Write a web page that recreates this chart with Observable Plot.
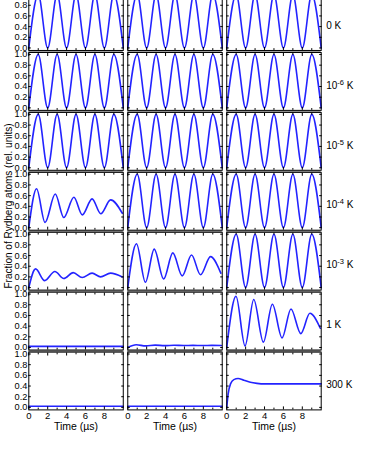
<!DOCTYPE html>
<html><head><meta charset="utf-8">
<script src="https://cdn.jsdelivr.net/npm/d3@7"></script>
<script src="https://cdn.jsdelivr.net/npm/@observablehq/plot@0.6"></script>
<style>
html,body{margin:0;padding:0;background:#fff;}
#wrap{position:relative;width:366px;height:473px;overflow:hidden;font-family:"Liberation Sans",Arial,sans-serif;color:#000;}
#chart{position:absolute;left:0;top:-10px;}
#ytitle{position:absolute;left:7.5px;top:206px;transform:translate(-50%,-50%) rotate(-90deg);white-space:nowrap;font-size:10px;}
</style></head><body>
<div id="wrap"><div id="chart"></div><div id="ytitle"></div></div>
<script>
// ---- text ----
const rowLabels = ["0 K", "10\u207B\u2076 K", "10\u207B\u2075 K", "10\u207B\u2074 K", "10\u207B\u00B3 K", "1 K", "300 K"];
const timeLabel = "Time (\u00B5s)";
const yTitle = "Fraction of Rydberg atoms (rel. units)";
const yTicks = [0, 0.2, 0.4, 0.6, 0.8, 1.0];
const xTicks = [0, 2, 4, 6, 8];
const xMinorTicks = [1, 3, 5, 7, 9];

// ---- series (extrema) ----
const fullT = [0, 1, 2, 3, 4, 5, 6, 7, 8, 9, 10];
const fullV = [0, 1, 0, 1, 0, 1, 0, 1, 0, 1, 0];
const dampA_T = [0, 0.82, 1.72, 2.8, 3.7, 4.77, 5.66, 6.7, 7.62, 8.66, 9.9];
const dampA_V = [0, 0.73, 0.10, 0.63, 0.19, 0.57, 0.24, 0.54, 0.26, 0.52, 0.27];
const dampB_T = [0, 0.72, 1.68, 2.76, 3.7, 4.7, 5.65, 6.7, 7.6, 8.65, 9.9];
const dampB_V = [0, 0.35, 0.13, 0.30, 0.17, 0.28, 0.19, 0.27, 0.20, 0.27, 0.20];
const dampC_T = [0, 0.92, 1.87, 2.8, 3.8, 4.77, 5.76, 6.75, 7.7, 8.76, 9.85];
const dampC_V = [0, 0.82, 0.10, 0.72, 0.16, 0.65, 0.22, 0.61, 0.24, 0.58, 0.27];
const dampD_T = [0, 0.98, 1.94, 2.86, 3.88, 4.83, 5.86, 6.8, 7.84, 8.8, 9.9];
const dampD_V = [0, 0.96, 0.03, 0.90, 0.10, 0.81, 0.18, 0.72, 0.26, 0.64, 0.36];
const weakT = [0, 0.9, 1.9, 2.9, 3.9, 4.9, 5.9, 6.9, 7.9, 8.9, 9.9];
const weakV = [0, 0.05, 0.03, 0.045, 0.035, 0.042, 0.036, 0.04, 0.037, 0.04, 0.038];
const flatT = [0, 10];
const flatV = [0.02, 0.02];
const relaxT = [0, 0.15, 0.4, 0.75, 1.2, 1.8, 2.5, 3.2, 4, 6, 8, 10];
const relaxV = [0, 0.25, 0.44, 0.52, 0.54, 0.51, 0.47, 0.45, 0.44, 0.44, 0.44, 0.44];

const series = {
  full: [fullT, fullV], A: [dampA_T, dampA_V], B: [dampB_T, dampB_V],
  C: [dampC_T, dampC_V], D: [dampD_T, dampD_V], weak: [weakT, weakV],
  flat: [flatT, flatV], relax: [relaxT, relaxV]
};
const grid = [
  ["full", "full", "full"],
  ["full", "full", "full"],
  ["full", "full", "full"],
  ["A", "full", "full"],
  ["B", "C", "full"],
  ["flat", "weak", "D"],
  ["flat", "flat", "relax"]
];

const table = grid.flatMap((r, row) => r.flatMap((name, col) => {
  const [ts, vs] = series[name];
  return ts.map((t, i) => ({row, col, key: row + "-" + col, t, v: vs[i]}));
}));
const cells = grid.flatMap((r, row) => r.map((_, col) => ({row, col})));
const gapCells = cells.filter(d => d.row < grid.length - 1);

const yMin = -0.047, yMax = 1.037;
const font = "'Liberation Sans', Arial, sans-serif";

const chart = Plot.plot({
  width: 366, height: 483,
  marginTop: 2.1, marginLeft: 28.3, marginRight: 45.3, marginBottom: 63.6,
  facet: {marginTop: 0, marginBottom: 0, marginLeft: 0, marginRight: 0},
  fx: {domain: [0, 1, 2], paddingInner: 0.0455, paddingOuter: 0, round: false, axis: null, label: null},
  fy: {domain: d3.range(grid.length), paddingInner: 0.034, paddingOuter: 0, round: false, axis: null, label: null},
  x: {domain: [0, 10], axis: null},
  y: {domain: [yMin, yMax], axis: null},
  style: {fontFamily: font, fontSize: "9.5px", color: "black", background: "white"},
  marks: [
    Plot.ruleY(gapCells, {fx: "col", fy: "row", y: () => yMin, stroke: "#9a9a9a", strokeWidth: 2.4, dy: 1.3}),
    Plot.line(table, {fx: "col", fy: "row", x: "t", y: "v", z: "key", curve: "monotone-x", stroke: "#2323ff", strokeWidth: 1.6}),
    Plot.frame({stroke: "black", strokeWidth: 1}),
    Plot.axisY(yTicks, {anchor: "left", tickSize: -2.5, tickFormat: () => "", facetAnchor: null, label: null}),
    Plot.axisY(yTicks, {anchor: "right", tickSize: -2.5, tickFormat: () => "", facetAnchor: null, label: null}),
    Plot.axisX(xTicks, {anchor: "bottom", tickSize: -3, tickFormat: () => "", facetAnchor: null, label: null}),
    Plot.axisX(xTicks, {anchor: "top", tickSize: -3, tickFormat: () => "", facetAnchor: null, label: null}),
    Plot.axisX(xMinorTicks, {anchor: "bottom", tickSize: -1.8, tickFormat: () => "", facetAnchor: null, label: null}),
    Plot.axisX(xMinorTicks, {anchor: "top", tickSize: -1.8, tickFormat: () => "", facetAnchor: null, label: null}),
    Plot.axisY(yTicks, {anchor: "left", tickSize: 0, tickPadding: 1.5, tickFormat: d3.format(".1f"), label: null, fontSize: 9.2}),
    Plot.axisX(xTicks, {anchor: "bottom", tickSize: 0, tickPadding: 2.5, label: null, fontSize: 9.5}),
    Plot.text(rowLabels, {fx: () => 2, fy: (d, i) => i, frameAnchor: "right", y: () => 0.42, dx: 5, textAnchor: "start", fontSize: 10}),
    Plot.text([0, 1, 2], {fx: d => d, fy: () => grid.length - 1, text: () => timeLabel, frameAnchor: "bottom", dy: 20, fontSize: 10.5})
  ]
});

// render Unicode superscripts in the row labels as raised text
const supMap = {"\u207B": "-", "\u2070": "0", "\u00B9": "1", "\u00B2": "2", "\u00B3": "3", "\u2074": "4", "\u2075": "5", "\u2076": "6", "\u2077": "7", "\u2078": "8", "\u2079": "9"};
d3.select(chart).selectAll("text").each(function () {
  const s = this.textContent;
  const m = s.match(/^(\d+)([\u207B\u2070\u00B9\u00B2\u00B3\u2074-\u2079]+)(.*)$/);
  if (!m) return;
  const el = d3.select(this);
  el.text(null);
  el.append("tspan").text(m[1]);
  el.append("tspan").attr("dy", -4).attr("font-size", "7.5px").text([...m[2]].map(c => supMap[c]).join(""));
  el.append("tspan").attr("dy", 4).text(m[3]);
});

document.getElementById("chart").appendChild(chart);
document.getElementById("ytitle").textContent = yTitle;
</script></body></html>
